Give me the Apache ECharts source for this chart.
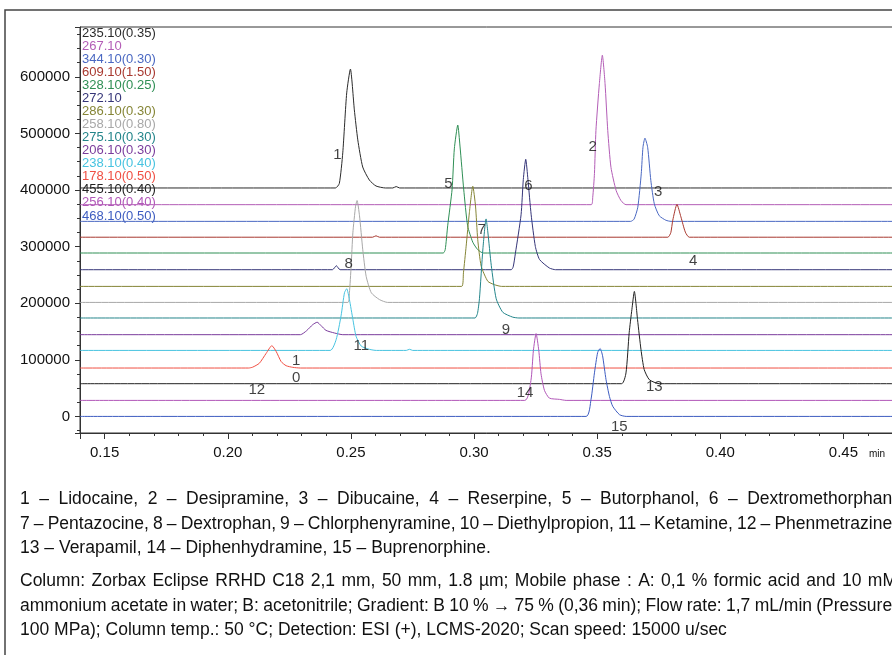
<!DOCTYPE html>
<html>
<head>
<meta charset="utf-8">
<title>LCMS chromatogram</title>
<script src="https://cdn.jsdelivr.net/npm/echarts@6/dist/echarts.min.js"></script>
<style>
  html, body { margin: 0; padding: 0; background: #fff; }
  #chart { width: 892px; height: 655px; }
</style>
</head>
<body>
<div id="chart"></div>
<script>
  // m/z (cone voltage) of each trace, top to bottom
  var traceNames = ['235.10(0.35)', '267.10', '344.10(0.30)', '609.10(1.50)', '328.10(0.25)',
    '272.10', '286.10(0.30)', '258.10(0.80)', '275.10(0.30)', '206.10(0.30)',
    '238.10(0.40)', '178.10(0.50)', '455.10(0.40)', '256.10(0.40)', '468.10(0.50)']
  // baseline offset of each trace (intensity)
  var baselines = [403600, 374100, 344600, 316600, 288700, 259200, 229700, 201400,
    173900, 144400, 116600, 85500, 57800, 28300, 0]
  // [time (min), height above baseline]
  var peaks = [
    [[0.2437, 0], [0.2453, 8000], [0.2467, 62000], [0.2483, 168000], [0.2498, 210000], [0.2514, 138000],
      [0.2528, 85000], [0.2548, 37000], [0.2575, 14000], [0.2602, 3500], [0.2640, 0],
      [0.2670, 0], [0.2684, 2500], [0.2698, 0]],
    [[0.3476, 0], [0.3482, 13000], [0.3489, 55000], [0.3495, 131000], [0.3509, 214000], [0.3521, 264000],
      [0.3532, 214000], [0.3543, 131000], [0.3556, 66000], [0.3577, 25000], [0.3597, 7000], [0.3617, 0]],
    [[0.3636, 0], [0.3650, 4000], [0.3665, 25000], [0.3679, 84000], [0.3686, 131000], [0.3694, 147000],
      [0.3705, 131000], [0.3718, 72000], [0.3732, 31000], [0.3752, 10000], [0.3779, 2000], [0.3800, 0]],
    [[0.2588, 0], [0.2602, 2500], [0.2616, 0],
      [0.3787, 0], [0.3799, 8000], [0.3807, 30000], [0.3824, 58000], [0.3840, 36000], [0.3858, 9000], [0.3874, 0]],
    [[0.2875, 0], [0.2883, 6000], [0.2893, 48000], [0.2911, 113000], [0.2920, 184000], [0.2934, 226000],
      [0.2943, 189000], [0.2958, 113000], [0.2974, 48000], [0.2995, 19000], [0.3015, 6000], [0.3037, 0]],
    [[0.2425, 0], [0.2441, 7000], [0.2456, 0],
      [0.3151, 0], [0.3159, 5000], [0.3168, 29000], [0.3191, 97000], [0.3200, 159000], [0.3210, 195000],
      [0.3219, 159000], [0.3232, 97000], [0.3249, 41000], [0.3266, 18000], [0.3306, 3000], [0.3331, 0]],
    [[0.2950, 0], [0.2957, 24000], [0.2968, 71000], [0.2981, 130000], [0.2995, 177000], [0.3006, 142000],
      [0.3015, 83000], [0.3029, 36000], [0.3056, 9000], [0.3083, 3000], [0.3112, 0]],
    [[0.2488, 0], [0.2494, 17000], [0.2501, 64000], [0.2508, 123000], [0.2519, 170000], [0.2525, 180000],
      [0.2535, 153000], [0.2548, 94000], [0.2562, 46000], [0.2583, 17000], [0.2616, 5000], [0.2649, 0]],
    [[0.3004, 0], [0.3014, 8000], [0.3022, 34000], [0.3036, 122000], [0.3049, 175000], [0.3056, 152000],
      [0.3070, 93000], [0.3090, 34000], [0.3117, 10000], [0.3157, 1500], [0.3182, 0]],
    [[0.2295, 0], [0.2320, 7000], [0.2345, 17700], [0.2363, 22000], [0.2379, 15900], [0.2399, 7600],
      [0.2433, 3000], [0.2467, 0]],
    [[0.2416, 0], [0.2440, 19000], [0.2460, 61000], [0.2474, 102000], [0.2483, 109000], [0.2494, 90000],
      [0.2508, 55000], [0.2521, 25000], [0.2542, 7600], [0.2576, 1800], [0.2604, 0],
      [0.2725, 0], [0.2738, 2000], [0.2751, 0]],
    [[0.2085, 0], [0.2101, 1500], [0.2128, 8300], [0.2156, 26000], [0.2179, 39500], [0.2197, 28900],
      [0.2217, 11200], [0.2237, 4100], [0.2264, 1200], [0.2295, 0]],
    [[0.3599, 0], [0.3617, 19000], [0.3630, 90000], [0.3641, 131000], [0.3651, 163000], [0.3664, 113000],
      [0.3678, 60000], [0.3691, 25000], [0.3712, 7000], [0.3752, 0]],
    [[0.3206, 0], [0.3231, 35000], [0.3241, 88000], [0.3252, 118000], [0.3263, 88000], [0.3272, 47000],
      [0.3286, 17700], [0.3306, 4000], [0.3347, 1800], [0.3374, 0]],
    [[0.3455, 0], [0.3475, 30000], [0.3489, 77000], [0.3502, 113000], [0.3512, 120000], [0.3522, 107000],
      [0.3536, 65000], [0.3550, 35000], [0.3563, 18000], [0.3591, 3000], [0.3618, 0]]
  ]
  var timeRange = [0.14, 0.475]
  var intensityRange = [-29300, 688000]

  // peak numbers written on the chart
  var peakNumbers = ['1', '2', '3', '4', '5', '6', '7', '8', '9', '1', '0', '11', '12', '13', '14', '15']
  var peakNumberTimes = [0.2445, 0.3482, 0.3748, 0.3890, 0.2896, 0.3221, 0.3031, 0.2491, 0.3130,
    0.2278, 0.2278, 0.2542, 0.2118, 0.3732, 0.3207, 0.3590]
  var peakNumberValues = [462400, 476000, 397000, 275000, 411000, 407000, 330000, 269000, 153000,
    99000, 68000, 124000, 47000, 52000, 42000, -18700]

  var captionLines = [
    '1 – Lidocaine, 2 – Desipramine, 3 – Dibucaine, 4 – Reserpine, 5 – Butorphanol, 6 – Dextromethorphan,',
    '7 – Pentazocine, 8 – Dextrophan, 9 – Chlorphenyramine, 10 – Diethylpropion, 11 – Ketamine, 12 – Phenmetrazine,',
    '13 – Verapamil, 14 – Diphenhydramine, 15 – Buprenorphine.',
    'Column: Zorbax Eclipse RRHD C18 2,1 mm, 50 mm, 1.8 µm; Mobile phase : A: 0,1 % formic acid and 10 mM',
    'ammonium acetate in water; B: acetonitrile; Gradient: B 10 % → 75 % (0,36 min); Flow rate: 1,7 mL/min (Pressure:',
    '100 MPa); Column temp.: 50 °C; Detection: ESI (+), LCMS-2020; Scan speed: 15000 u/sec'
  ]
  // justified lines fill the text block, last lines of a paragraph do not
  var captionJustified = [true, true, false, true, true, false]

  var traceColors = ['#2b2b2b', '#b35db6', '#4a68c2', '#a8382f', '#2f8f55', '#353578', '#858536',
    '#a8a8a8', '#23858a', '#7a3c9c', '#47c3e0', '#f04f43', '#222222', '#b157b8', '#3d5cc0']

  var font = '"Liberation Sans", Arial, sans-serif'
  var captionFont = '17.5px ' + font

  var chart = echarts.init(document.getElementById('chart'))

  var series = traceNames.map(function (name, i) {
    var base = baselines[i]
    var data = [[timeRange[0], base]]
    peaks[i].forEach(function (p) {
      data.push([p[0], base + p[1]])
    })
    data.push([timeRange[1], base])
    return {
      name: name,
      type: 'line',
      data: data,
      showSymbol: false,
      smooth: 0.2,
      lineStyle: { color: traceColors[i], width: 1 },
      silent: true
    }
  })

  series.push({
    type: 'scatter',
    symbolSize: 0,
    silent: true,
    z: 5,
    data: peakNumbers.map(function (n, i) {
      return { name: n, value: [peakNumberTimes[i], peakNumberValues[i]] }
    }),
    label: {
      show: true,
      position: 'inside',
      formatter: '{b}',
      color: '#111',
      fontSize: 15,
      fontFamily: font
    }
  })

  var graphics = [{
    type: 'rect',
    shape: { x: 5, y: 10, width: 1000, height: 1000 },
    style: { fill: 'none', stroke: '#444', lineWidth: 1.5 },
    silent: true
  }, {
    type: 'text',
    style: { x: 877, y: 454, text: 'min', fill: '#111', font: '10px ' + font, align: 'center', verticalAlign: 'middle' }
  }]
  traceNames.forEach(function (name, i) {
    graphics.push({
      type: 'text',
      style: {
        x: 82, y: 33 + i * 13.07, text: name, fill: traceColors[i],
        font: '13px ' + font, verticalAlign: 'middle'
      }
    })
  })

  // caption, word by word so the justified lines spread to the block width
  var ctx = document.createElement('canvas').getContext('2d')
  ctx.font = captionFont
  var captionY = [499, 524, 548, 581, 606, 630]
  var textLeft = 20
  var textRight = 897
  captionLines.forEach(function (line, i) {
    if (!captionJustified[i]) {
      graphics.push({
        type: 'text',
        style: { x: textLeft, y: captionY[i], text: line, fill: '#111', font: captionFont, verticalAlign: 'middle' }
      })
      return
    }
    var words = line.split(' ')
    var widths = words.map(function (w) { return ctx.measureText(w).width })
    var total = widths.reduce(function (a, b) { return a + b }, 0)
    var gap = (textRight - textLeft - total) / (words.length - 1)
    var x = textLeft
    words.forEach(function (w, k) {
      graphics.push({
        type: 'text',
        style: { x: x, y: captionY[i], text: w, fill: '#111', font: captionFont, verticalAlign: 'middle' }
      })
      x += widths[k] + gap
    })
  })

  var option = {
    animation: false,
    backgroundColor: '#fff',
    grid: {
      left: 80, top: 27, width: 825, height: 406,
      outerBoundsMode: 'none', containLabel: false,
      show: true, borderColor: '#333', borderWidth: 1
    },
    xAxis: {
      type: 'value',
      min: timeRange[0],
      max: timeRange[1],
      splitLine: { show: false },
      axisLine: { onZero: false, lineStyle: { color: '#333' } },
      axisTick: { length: 6, lineStyle: { color: '#333' } },
      minorTick: { show: true, splitNumber: 5, length: 3, lineStyle: { color: '#333' } },
      axisLabel: {
        showMinLabel: false, showMaxLabel: false, margin: 12,
        color: '#111', fontSize: 15, fontFamily: font,
        formatter: function (v) { return v.toFixed(2) }
      }
    },
    yAxis: {
      type: 'value',
      min: intensityRange[0],
      max: intensityRange[1],
      splitLine: { show: false },
      axisLine: { show: true, onZero: false, lineStyle: { color: '#333' } },
      axisTick: { show: true, length: 5, lineStyle: { color: '#333' } },
      minorTick: { show: true, splitNumber: 4, length: 3, lineStyle: { color: '#333' } },
      axisLabel: {
        showMinLabel: false, showMaxLabel: false, margin: 10,
        color: '#111', fontSize: 15, fontFamily: font,
        formatter: function (v) { return String(v) }
      }
    },
    graphic: graphics,
    series: series
  }
  chart.setOption(option)
</script>
</body>
</html>
